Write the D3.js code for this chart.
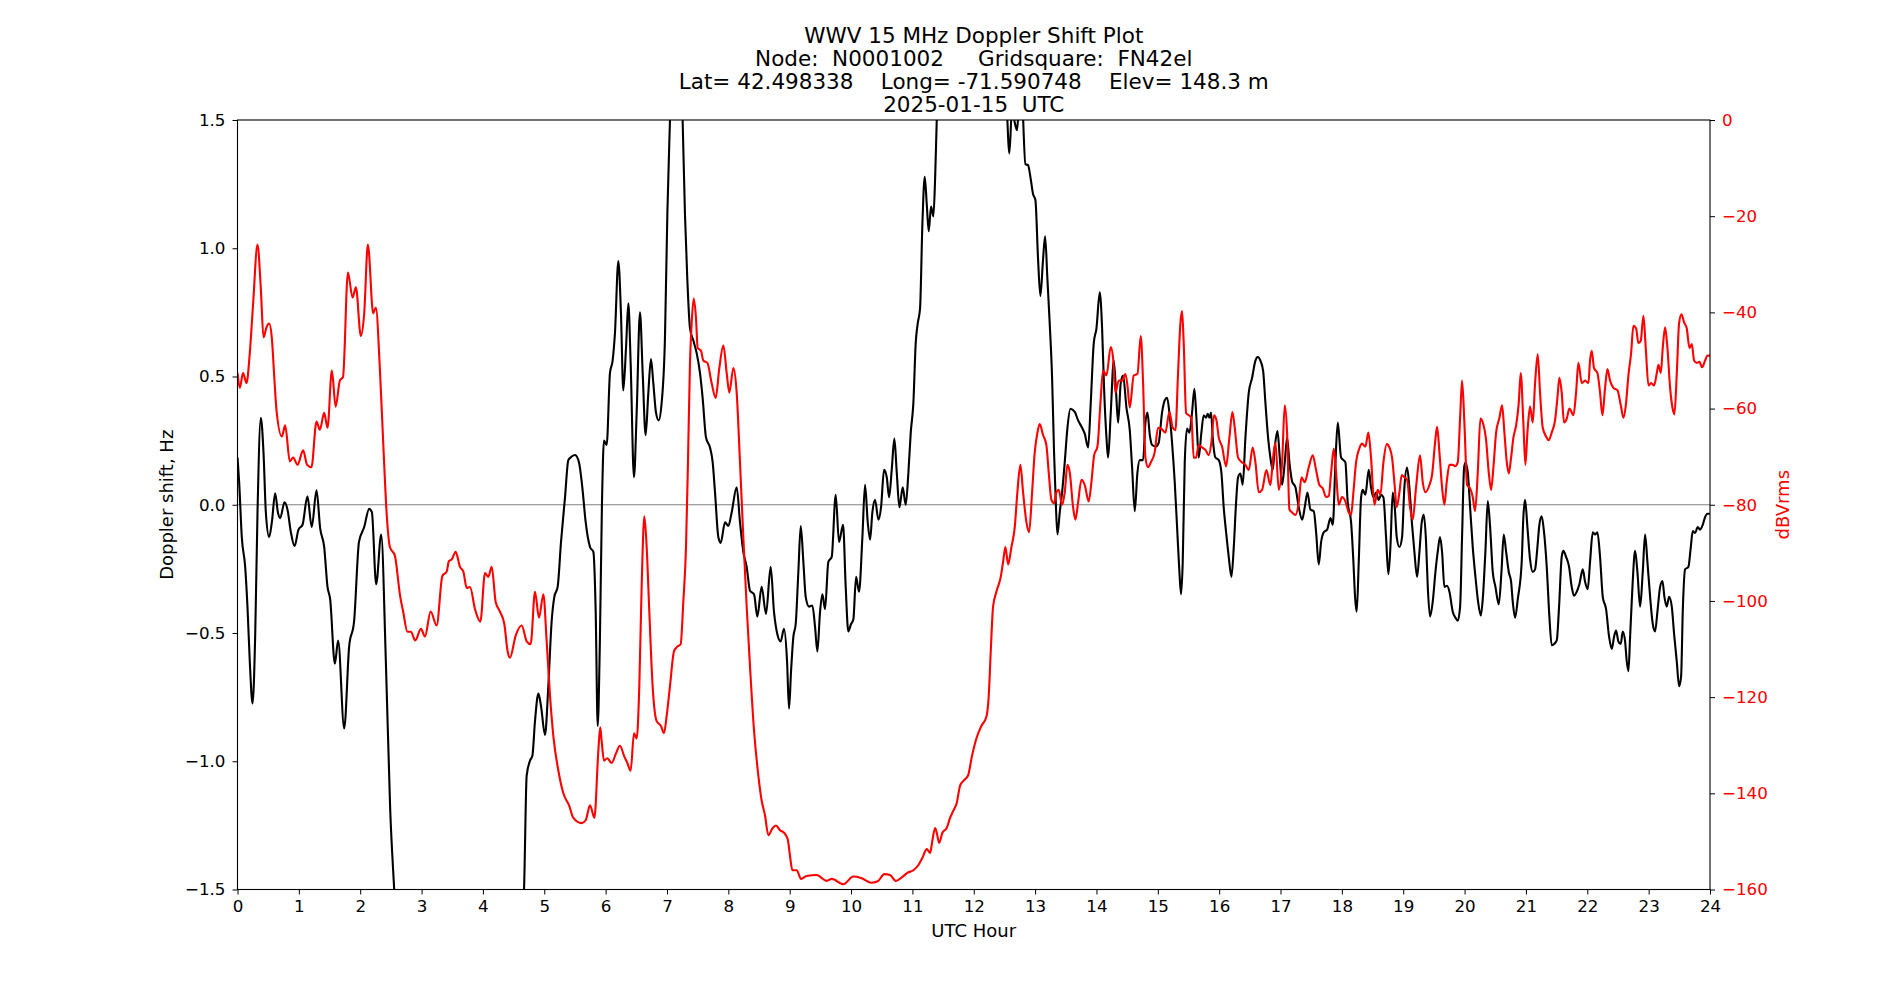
<!DOCTYPE html>
<html><head><meta charset="utf-8">
<script src="https://cdn.jsdelivr.net/npm/d3@7"></script>
<style>
body{margin:0;background:#fff}
text{font-family:"DejaVu Sans",sans-serif}
</style>
</head><body>
<svg id="chart" width="1900" height="1000"></svg>
<script>
// ---------- data ----------
const titleLines = [
  "WWV 15 MHz Doppler Shift Plot",
  "Node:  N0001002     Gridsquare:  FN42el",
  "Lat= 42.498338    Long= -71.590748    Elev= 148.3 m",
  "2025-01-15  UTC"
];
const xLabel = "UTC Hour";
const leftLabel = "Doppler shift, Hz";
const rightLabel = "dBVrms";
const hourTicks = d3.range(0, 25, 1);
const dopplerTicks = [-1.5, -1.0, -0.5, 0.0, 0.5, 1.0, 1.5];
const levelTicks = [0, -20, -40, -60, -80, -100, -120, -140, -160];

// [UTC hour, Doppler shift Hz]
const dopplerShift = [
[0,0.184],[0.027,0.087],[0.07,-0.126],[0.125,-0.242],[0.163,-0.40],[0.2,-0.61],[0.245,-0.775],[0.288,-0.514],[0.326,-0.03],[0.38,0.339],[0.424,0.203],[0.462,-0.03],[0.516,-0.126],[0.56,-0.068],[0.614,0.045],[0.658,-0.029],[0.696,-0.052],[0.766,0.01],[0.815,-0.019],[0.87,-0.107],[0.93,-0.161],[0.994,-0.097],[1.06,-0.078],[1.14,0.033],[1.21,-0.087],[1.288,0.056],[1.347,-0.091],[1.413,-0.165],[1.467,-0.32],[1.51,-0.368],[1.587,-0.62],[1.64,-0.529],[1.739,-0.872],[1.82,-0.552],[1.9,-0.455],[1.98,-0.145],[2.065,-0.087],[2.146,-0.016],[2.19,-0.029],[2.26,-0.31],[2.342,-0.116],[2.418,-0.61],[2.489,-1.19],[2.554,-1.5],[2.65,-1.9],[3.5,-2.0],[4.55,-1.9],[4.67,-1.5],
[4.713,-1.056],[4.767,-0.998],[4.806,-0.979],[4.849,-0.843],[4.904,-0.736],[4.947,-0.785],[5.012,-0.897],[5.066,-0.707],[5.12,-0.455],[5.164,-0.359],[5.218,-0.32],[5.273,-0.145],[5.338,0.029],[5.392,0.174],[5.447,0.188],[5.501,0.194],[5.566,0.165],[5.62,0.068],[5.675,-0.068],[5.746,-0.165],[5.8,-0.184],[5.838,-0.417],[5.871,-0.862],[5.905,-0.55],[5.94,0.0],[5.973,0.25],
[6.017,0.233],[6.071,0.514],[6.114,0.562],[6.152,0.669],[6.207,0.95],[6.25,0.746],[6.288,0.446],[6.332,0.61],[6.37,0.785],[6.408,0.552],[6.462,0.107],[6.506,0.359],[6.56,0.75],[6.604,0.514],[6.652,0.271],[6.696,0.436],[6.739,0.568],[6.777,0.475],[6.821,0.359],[6.864,0.329],[6.913,0.397],[6.967,0.649],[7.006,1.134],[7.049,1.5],[7.1,1.9],[7.2,1.9],[7.255,1.5],[7.293,1.134],[7.331,0.882],[7.375,0.688],[7.43,0.64],[7.484,0.591],[7.538,0.514],[7.581,0.417],[7.636,0.262],[7.701,0.223],[7.745,0.165],[7.783,0.048],[7.837,-0.126],[7.875,-0.149],[7.946,-0.068],[8.0,-0.083],[8.055,-0.029],[8.136,0.068],[8.19,-0.068],[8.244,-0.184],[8.299,-0.242],[8.353,-0.335],[8.419,-0.349],[8.473,-0.436],[8.543,-0.32],[8.614,-0.426],[8.69,-0.242],[8.744,-0.417],[8.798,-0.504],[8.853,-0.533],[8.907,-0.484],
[8.957,-0.61],[8.989,-0.795],[9.022,-0.649],[9.06,-0.514],[9.098,-0.465],[9.141,-0.262],[9.18,-0.083],[9.223,-0.223],[9.261,-0.359],[9.315,-0.397],[9.37,-0.393],[9.413,-0.475],[9.451,-0.572],[9.495,-0.417],[9.533,-0.349],[9.576,-0.407],[9.63,-0.223],[9.685,-0.203],[9.75,0.039],[9.804,-0.145],[9.87,-0.078],[9.913,-0.32],[9.956,-0.494],[10.0,-0.465],[10.038,-0.446],[10.082,-0.281],[10.13,-0.339],[10.185,-0.126],[10.228,0.078],[10.272,-0.068],[10.31,-0.136],[10.348,-0.029],[10.391,0.019],[10.446,-0.058],[10.489,-0.01],[10.538,0.136],[10.582,0.107],[10.62,0.029],[10.663,0.136],[10.706,0.258],[10.745,0.126],[10.788,-0.01],[10.842,0.068],[10.891,0.0],[10.935,0.126],[10.973,0.281],[11.016,0.397],[11.054,0.63],[11.087,0.707],[11.125,0.766],[11.163,1.095],[11.201,1.279],[11.234,1.172],[11.266,1.066],[11.304,1.163],[11.342,1.124],[11.37,1.269],[11.397,1.5],[11.45,1.9],[12.0,2.0],[12.5,1.9],
[12.548,1.5],[12.581,1.37],[12.624,1.55],[12.668,1.49],[12.706,1.46],[12.733,1.55],[12.78,1.6],[12.842,1.328],[12.885,1.324],[12.929,1.269],[12.967,1.211],[13.005,1.188],[13.048,0.959],[13.086,0.814],[13.13,0.959],[13.163,1.047],[13.2,0.882],[13.238,0.707],[13.277,0.494],[13.309,0.203],[13.337,0.01],[13.364,-0.116],[13.402,-0.029],[13.44,0.048],[13.483,0.165],[13.527,0.3],[13.576,0.374],[13.646,0.362],[13.701,0.329],[13.766,0.3],[13.809,0.277],[13.864,0.223],[13.907,0.397],[13.956,0.63],[14.0,0.688],[14.054,0.828],[14.092,0.688],[14.124,0.455],[14.163,0.262],[14.19,0.184],[14.233,0.359],[14.282,0.562],[14.32,0.436],[14.353,0.32],[14.396,0.475],[14.434,0.504],[14.489,0.378],[14.543,0.291],[14.581,0.145],[14.624,-0.025],[14.668,0.126],[14.706,0.174],[14.76,0.174],[14.798,0.32],[14.831,0.359],[14.87,0.271],[14.907,0.233],
[14.971,0.227],[15.015,0.242],[15.069,0.359],[15.113,0.407],[15.151,0.417],[15.189,0.359],[15.232,0.242],[15.276,0.087],[15.314,-0.087],[15.352,-0.262],[15.379,-0.349],[15.406,-0.223],[15.439,0.165],[15.477,0.297],[15.515,0.281],[15.558,0.359],[15.596,0.452],[15.629,0.339],[15.667,0.184],[15.71,0.281],[15.748,0.349],[15.786,0.339],[15.813,0.355],[15.841,0.339],[15.868,0.359],[15.895,0.262],[15.939,0.184],[15.993,0.174],[16.036,0.126],[16.074,-0.01],[16.113,-0.107],[16.156,-0.203],[16.2,-0.281],[16.238,-0.165],[16.276,0.01],[16.308,0.107],[16.346,0.122],[16.384,0.078],[16.428,0.262],[16.482,0.436],[16.536,0.494],[16.591,0.562],[16.629,0.576],[16.672,0.562],[16.716,0.523],[16.754,0.397],[16.797,0.262],[16.835,0.184],[16.873,0.136],[16.906,0.223],[16.95,0.287],[16.988,0.184],[17.026,0.078],[17.069,0.165],[17.107,0.262],[17.145,0.165],[17.189,0.091],[17.243,0.068],[17.297,-0.01],[17.352,-0.058],[17.395,-0.01],[17.439,0.048],[17.488,-0.019],[17.542,-0.025],[17.58,-0.107],[17.623,-0.233],[17.662,-0.145],[17.705,-0.107],[17.759,-0.097],[17.814,-0.052],[17.852,-0.078],[17.895,0.165],[17.933,0.32],
[17.987,0.184],[18.025,0.174],[18.057,0.165],[18.095,0.01],[18.15,-0.068],[18.188,-0.223],[18.215,-0.359],[18.242,-0.417],[18.275,-0.223],[18.313,0.029],[18.34,0.058],[18.383,0.039],[18.438,0.136],[18.475,0.068],[18.514,0.029],[18.557,0.048],[18.6,0.019],[18.639,0.039],[18.677,0.029],[18.72,-0.126],[18.758,-0.271],[18.791,-0.165],[18.829,0.048],[18.862,-0.01],[18.894,-0.126],[18.938,-0.165],[18.981,-0.126],[19.019,0.068],[19.063,0.145],[19.1,0.068],[19.144,-0.078],[19.182,-0.184],[19.226,-0.281],[19.264,-0.184],[19.302,-0.068],[19.335,-0.039],[19.372,-0.145],[19.4,-0.32],[19.437,-0.436],[19.481,-0.378],[19.525,-0.262],[19.562,-0.184],[19.6,-0.126],[19.633,-0.184],[19.671,-0.32],[19.714,-0.316],[19.753,-0.339],[19.807,-0.417],[19.85,-0.44],[19.889,-0.452],[19.927,-0.397],[19.959,-0.126],[19.992,0.145],[20.014,0.165],[20.052,0.126],[20.09,-0.01],[20.133,-0.165],[20.177,-0.281],[20.22,-0.378],[20.264,-0.432],[20.296,-0.368],[20.339,-0.184],[20.378,0.014],[20.416,-0.087],[20.459,-0.262],[20.503,-0.32],[20.557,-0.388],[20.601,-0.262],[20.638,-0.116],[20.677,-0.184],[20.72,-0.262],[20.758,-0.3],[20.785,-0.378],[20.823,-0.44],[20.867,-0.368],
[20.931,-0.223],[20.958,-0.048],[20.986,0.019],[21.024,-0.087],[21.067,-0.213],[21.111,-0.262],[21.149,-0.252],[21.187,-0.165],[21.219,-0.078],[21.257,-0.045],[21.295,-0.107],[21.339,-0.242],[21.382,-0.436],[21.42,-0.548],[21.458,-0.543],[21.502,-0.529],[21.54,-0.397],[21.583,-0.203],[21.61,-0.18],[21.654,-0.203],[21.703,-0.242],[21.746,-0.32],[21.784,-0.355],[21.828,-0.339],[21.871,-0.31],[21.926,-0.252],[21.964,-0.3],[22.007,-0.329],[22.045,-0.223],[22.089,-0.107],[22.127,-0.116],[22.165,-0.107],[22.208,-0.203],[22.252,-0.359],[22.306,-0.407],[22.355,-0.514],[22.399,-0.562],[22.437,-0.514],[22.469,-0.49],[22.507,-0.533],[22.545,-0.543],[22.578,-0.494],[22.616,-0.533],[22.643,-0.61],[22.67,-0.649],[22.698,-0.514],[22.736,-0.32],[22.779,-0.18],[22.817,-0.262],[22.861,-0.397],[22.904,-0.262],[22.942,-0.116],[22.98,-0.223],[23.024,-0.359],[23.067,-0.465],[23.105,-0.494],[23.143,-0.417],[23.187,-0.32],[23.225,-0.297],[23.257,-0.359],[23.295,-0.397],[23.333,-0.359],[23.377,-0.397],[23.415,-0.504],[23.458,-0.61],[23.496,-0.707],[23.529,-0.669],[23.556,-0.417],[23.594,-0.252],[23.648,-0.242],[23.687,-0.165],[23.719,-0.103],[23.757,-0.11],[23.8,-0.087],[23.838,-0.097],[23.882,-0.078],[23.92,-0.048],[23.958,-0.035],[24.0,-0.035]
];

// [UTC hour, signal level dBVrms]
const signalLevel = [
[0,-52.6],[0.038,-55.7],[0.09,-52.6],[0.147,-54.7],[0.2,-48.5],[0.255,-38.1],[0.326,-25.9],[0.38,-35],[0.424,-45.2],[0.473,-43.1],[0.516,-42.3],[0.56,-45.4],[0.6,-53.6],[0.636,-60.4],[0.723,-65.8],[0.777,-63.5],[0.853,-71],[0.907,-70.2],[0.978,-71.7],[1.07,-68.7],[1.135,-71.7],[1.205,-72.2],[1.288,-62.7],[1.342,-64.4],[1.413,-60.9],[1.467,-64],[1.538,-52.1],[1.6,-59.6],[1.668,-54.2],[1.72,-53.4],[1.8,-31.7],[1.875,-36.9],[1.93,-34.8],[2.01,-44.9],[2.065,-40.2],[2.125,-25.9],[2.212,-40.2],[2.255,-39],[2.32,-51.6],[2.375,-67.1],[2.43,-81.6],[2.484,-88.8],[2.565,-90.6],[2.652,-99.1],[2.7,-102.2],[2.77,-106.4],[2.826,-106.4],[2.897,-108.2],
[2.99,-105.8],[3.056,-107.4],[3.148,-102.2],[3.246,-105.1],[3.339,-94.8],[3.409,-93.9],[3.447,-91.7],[3.49,-91.4],[3.556,-89.8],[3.626,-92.9],[3.681,-93.9],[3.735,-97.3],[3.79,-97.1],[3.871,-101.7],[3.958,-104.3],[4.034,-94.2],[4.088,-95],[4.143,-92.9],[4.208,-100.2],[4.278,-102.2],[4.349,-104.8],[4.403,-110.5],[4.441,-111.8],[4.534,-107.2],[4.632,-105.1],[4.713,-108.4],[4.778,-109],[4.849,-98.1],[4.914,-103.5],[4.985,-98.6],[5.039,-108.4],[5.094,-119.8],[5.148,-128.1],[5.23,-135.3],[5.311,-140],[5.404,-142.5],[5.474,-145.1],[5.61,-146.2],[5.675,-145.6],[5.746,-142.5],[5.817,-145.1],[5.881,-131.2],[5.912,-126.3],
[5.935,-129.1],[5.973,-133.2],[6.028,-132.7],[6.098,-133.7],[6.169,-131.7],[6.234,-130.1],[6.3,-132.2],[6.354,-133.7],[6.408,-135.3],[6.462,-127.5],[6.506,-128.6],[6.549,-117.7],[6.587,-97.1],[6.631,-82.4],[6.669,-88.8],[6.712,-102.2],[6.766,-117.7],[6.832,-125],[6.902,-126],[6.951,-127.5],[6.995,-123.9],[7.049,-117.7],[7.114,-110.5],[7.169,-109.5],[7.223,-109],[7.266,-100.2],[7.31,-88.8],[7.342,-71.2],[7.375,-50.5],[7.402,-42.3],[7.435,-37.1],[7.473,-41.2],[7.5,-47.4],[7.555,-48],[7.592,-50],[7.658,-50.5],[7.728,-54.7],[7.794,-57.8],[7.853,-51.6],[7.919,-46.9],[7.973,-52.6],[8.016,-56.7],[8.082,-51.6],[8.136,-56.7],[8.19,-71.2],[8.244,-86.7],[8.299,-101.2],[8.353,-113.6],[8.419,-127],[8.489,-136.3],[8.543,-141.5],[8.598,-144.6],[8.652,-148.7],[8.723,-147.2],[8.777,-146.7],[8.842,-147.7],[8.907,-148.2],[8.967,-149.5],
[9.005,-153],[9.043,-156],[9.114,-156],[9.185,-157.8],[9.277,-157.2],[9.44,-157],[9.603,-158.2],[9.685,-157.8],[9.875,-158.9],[10.038,-157.3],[10.163,-157.6],[10.326,-158.6],[10.435,-158.3],[10.544,-156.8],[10.636,-157],[10.728,-158.2],[10.853,-157.2],[10.924,-156.5],[11.016,-156],[11.098,-154.9],[11.163,-153.4],[11.234,-151.6],[11.288,-152.4],[11.326,-149.8],[11.37,-147.2],[11.397,-148.2],[11.435,-150.3],[11.489,-148.2],[11.56,-147.2],[11.614,-145.1],[11.668,-143.6],[11.723,-142],[11.777,-138.4],[11.831,-137.4],
[11.907,-136.3],[11.972,-132.2],[12.043,-128.6],[12.124,-126],[12.206,-124.1],[12.244,-119.8],[12.277,-110.5],[12.315,-101.2],[12.369,-98.1],[12.44,-95],[12.478,-91.9],[12.516,-88.8],[12.56,-92.4],[12.614,-88.8],[12.668,-84.7],[12.711,-77.4],[12.76,-71.7],[12.804,-77.4],[12.858,-83.6],[12.902,-85.7],[12.951,-77.4],[12.994,-69.1],[13.038,-65],[13.075,-63.2],[13.13,-65.5],[13.184,-67.6],[13.222,-73.3],[13.266,-79],[13.309,-79.7],[13.347,-77.4],[13.385,-76.9],[13.44,-80],[13.483,-77.4],[13.527,-71.7],[13.565,-73.3],[13.619,-80.5],[13.657,-83.1],[13.701,-79.5],[13.755,-74.8],[13.809,-75.9],[13.874,-79.3],[13.918,-75.3],[13.962,-69.7],[14.016,-67.9],[14.065,-58.8],[14.108,-52.1],[14.163,-53.1],[14.233,-47.2],[14.271,-49.5],[14.309,-56.7],[14.363,-54.2],[14.418,-54.2],[14.472,-52.8],[14.505,-55.2],[14.543,-59.8],[14.608,-53.1],[14.668,-52.8],[14.722,-44.9],[14.76,-54.7],[14.798,-70.2],[14.842,-72.2],[14.885,-71.2],
[14.949,-69.1],[15.004,-64],[15.058,-64.2],[15.123,-65],[15.189,-60.7],[15.243,-64],[15.287,-64.5],[15.33,-52.6],[15.368,-42.3],[15.395,-39.7],[15.422,-46.4],[15.461,-60.9],[15.504,-61.4],[15.547,-61.9],[15.585,-70.2],[15.623,-70.2],[15.667,-67.6],[15.721,-68.1],[15.776,-68.6],[15.83,-69.7],[15.873,-67.1],[15.917,-61.4],[15.955,-62.4],[15.993,-66],[16.047,-67.9],[16.113,-72],[16.167,-66],[16.216,-60.7],[16.254,-64],[16.308,-70.2],[16.373,-71.2],[16.428,-71.7],[16.482,-72.8],[16.547,-68.1],[16.591,-71.2],[16.645,-77.4],[16.699,-76.9],[16.77,-72.8],[16.835,-75.9],[16.879,-70.2],[16.917,-67.1],[16.971,-76.9],[17.026,-71.2],[17.069,-59.3],[17.107,-65],[17.145,-81],[17.189,-81.6],[17.243,-82.1],[17.297,-79.5],[17.341,-74.3],[17.395,-75.3],[17.46,-72.2],[17.526,-69.7],[17.58,-72.8],[17.634,-75.9],[17.689,-76.6],[17.743,-78.4],[17.786,-78.2],[17.825,-73.3],[17.868,-68.3],[17.906,-73.3],
[17.948,-80],[18.003,-78.4],[18.057,-79.3],[18.112,-81.6],[18.15,-82.1],[18.188,-77.4],[18.231,-71.2],[18.285,-68.3],[18.329,-67.3],[18.383,-67.9],[18.432,-65],[18.475,-70.2],[18.53,-80],[18.585,-76.9],[18.628,-77.9],[18.677,-71.2],[18.731,-67.4],[18.775,-68.1],[18.818,-70.2],[18.856,-75.3],[18.894,-80.5],[18.938,-77.4],[18.976,-73.8],[19.019,-74.3],[19.063,-74.8],[19.111,-80.5],[19.155,-83.1],[19.209,-76.4],[19.274,-69.7],[19.318,-75.3],[19.361,-77.4],[19.427,-75.9],[19.47,-73.8],[19.519,-67.1],[19.552,-63.8],[19.59,-69.1],[19.633,-76.4],[19.671,-80],[19.709,-75.3],[19.753,-71.7],[19.807,-71.7],[19.845,-72],[19.889,-71.2],[19.927,-61.9],[19.959,-54.2],[19.997,-63],[20.041,-75.9],[20.09,-76.6],[20.133,-78.4],[20.171,-81.3],[20.215,-73.3],[20.258,-62.1],[20.296,-62.9],[20.351,-66.6],[20.394,-73.3],[20.432,-76.9],[20.47,-72.2],[20.514,-65],[20.568,-61.9],[20.611,-59.3],[20.649,-65],[20.688,-71.2],[20.72,-73.5],[20.758,-70.2],[20.796,-66],[20.84,-63.5],[20.883,-58.8],
[20.915,-52.6],[20.958,-63],[20.991,-71.7],[21.024,-65],[21.067,-59.6],[21.111,-62.9],[21.149,-54.7],[21.192,-48.7],[21.23,-56.7],[21.274,-64],[21.328,-65.8],[21.371,-66.6],[21.42,-65],[21.475,-62.4],[21.513,-57.8],[21.545,-53.6],[21.583,-56.7],[21.621,-62.9],[21.665,-62.1],[21.708,-60],[21.774,-61.4],[21.817,-56.7],[21.855,-50.5],[21.909,-54.7],[21.964,-54.2],[22.018,-54.7],[22.045,-50],[22.072,-48],[22.11,-51.6],[22.165,-52.6],[22.208,-56.7],[22.246,-61.4],[22.29,-55.7],[22.328,-51.8],[22.371,-54.2],[22.426,-55.7],[22.491,-56.2],[22.546,-59.3],[22.589,-61.9],[22.632,-58.8],[22.67,-53.1],[22.714,-48.5],[22.752,-42.8],[22.795,-43.3],[22.833,-46.4],[22.871,-45.9],[22.915,-40.7],[22.953,-47.4],[22.997,-55.2],[23.04,-54.7],[23.089,-55.2],[23.133,-52.6],[23.16,-50.9],[23.198,-52.6],[23.23,-47.4],[23.268,-43.1],[23.306,-47.4],[23.35,-55.7],[23.388,-59.8],[23.42,-61.2],[23.459,-52.6],[23.496,-42.3],[23.534,-40.4],[23.578,-42.1],[23.621,-43.3],[23.665,-47.4],[23.703,-46.6],[23.741,-50],[23.784,-50.5],[23.828,-50.3],[23.871,-51.4],[23.92,-50],[23.958,-49],[24.0,-49]
];

// ---------- layout ----------
const plot = {left: 237.5, top: 120, right: 1710, bottom: 889.5};
const svg = d3.select("#chart");

const x = d3.scaleLinear().domain([0, 24]).range([plot.left, plot.right]);
const yL = d3.scaleLinear().domain([-1.5, 1.5]).range([plot.bottom, plot.top]);
const yR = d3.scaleLinear().domain([-160, 0]).range([plot.bottom, plot.top]);

svg.append("defs").append("clipPath").attr("id", "clip")
  .append("rect").attr("x", plot.left).attr("y", plot.top)
  .attr("width", plot.right - plot.left).attr("height", plot.bottom - plot.top);

const g = svg.append("g").attr("clip-path", "url(#clip)");

// zero line
g.append("line")
  .attr("x1", x(0)).attr("x2", x(24)).attr("y1", yL(0)).attr("y2", yL(0))
  .attr("stroke", "#808080").attr("stroke-width", 1.2);

const lineL = d3.line().x(d => x(d[0])).y(d => yL(d[1])).curve(d3.curveMonotoneX);
const lineR = d3.line().x(d => x(d[0])).y(d => yR(d[1])).curve(d3.curveMonotoneX);

g.append("path").datum(dopplerShift).attr("d", lineL)
  .attr("fill", "none").attr("stroke", "#000").attr("stroke-width", 2.1)
  .attr("stroke-linejoin", "round");
g.append("path").datum(signalLevel).attr("d", lineR)
  .attr("fill", "none").attr("stroke", "#ff0000").attr("stroke-width", 2.1)
  .attr("stroke-linejoin", "round");

// axes
const tickFont = "16.7px";
const xAxis = d3.axisBottom(x).tickValues(hourTicks).tickFormat(d3.format("d"))
  .tickSizeInner(5).tickSizeOuter(0).tickPadding(6);
const gx = svg.append("g").attr("transform", `translate(0,${plot.bottom})`).call(xAxis);

const lAxis = d3.axisLeft(yL).tickValues(dopplerTicks).tickFormat(d3.format(".1f"))
  .tickSizeInner(5).tickSizeOuter(0).tickPadding(7);
const gl = svg.append("g").attr("transform", `translate(${plot.left},0)`).call(lAxis);

const rAxis = d3.axisRight(yR).tickValues(levelTicks).tickFormat(d3.format("d"))
  .tickSizeInner(5).tickSizeOuter(0).tickPadding(7);
const gr = svg.append("g").attr("transform", `translate(${plot.right},0)`).call(rAxis);

[gx, gl, gr].forEach(a => {
  a.select(".domain").remove();
  a.selectAll(".tick line").attr("stroke", "#000").attr("stroke-width", 1);
  a.selectAll(".tick text").attr("font-family", "DejaVu Sans").attr("font-size", tickFont).attr("fill", "#000");
});
gr.selectAll(".tick text").attr("fill", "#ff0000");

// frame
svg.append("rect").attr("x", plot.left).attr("y", plot.top)
  .attr("width", plot.right - plot.left).attr("height", plot.bottom - plot.top)
  .attr("fill", "none").attr("stroke", "#000").attr("stroke-width", 1.1);

// axis labels
svg.append("text").attr("x", (plot.left + plot.right) / 2).attr("y", 937)
  .attr("text-anchor", "middle").attr("font-size", "18px").text(xLabel);
svg.append("text").attr("transform", `translate(173,${(plot.top + plot.bottom) / 2}) rotate(-90)`)
  .attr("text-anchor", "middle").attr("font-size", "18px").text(leftLabel);
svg.append("text").attr("transform", `translate(1789,${(plot.top + plot.bottom) / 2}) rotate(-90)`)
  .attr("text-anchor", "middle").attr("font-size", "18px").attr("fill", "#ff0000").text(rightLabel);

// title
const tY = [43, 66, 89, 112];
titleLines.forEach((t, i) => {
  svg.append("text").attr("x", (plot.left + plot.right) / 2).attr("y", tY[i])
    .attr("text-anchor", "middle").attr("font-size", "21.5px")
    .style("white-space", "pre").text(t);
});
</script>
</body></html>
